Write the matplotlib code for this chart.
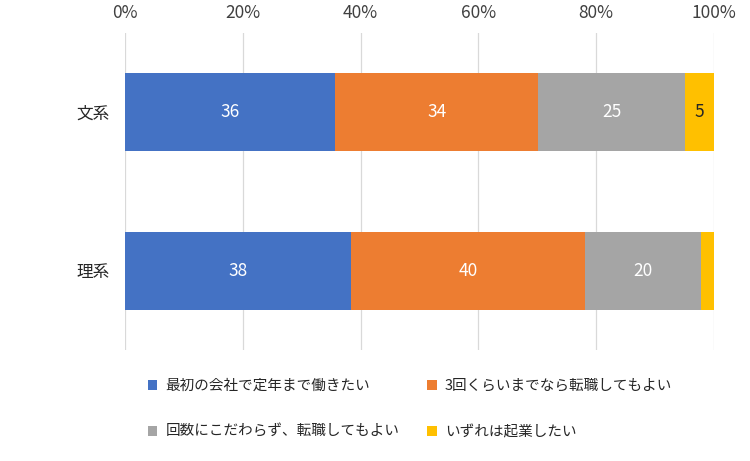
import matplotlib
matplotlib.use("Agg")
import matplotlib.pyplot as plt
from matplotlib.patches import Patch
import numpy as np

plt.rcParams['font.family'] = ['Noto Sans CJK JP', 'DejaVu Sans']

categories = ['文系', '理系']
series_names = ['最初の会社で定年まで働きたい', '3回くらいまでなら転職してもよい',
                '回数にこだわらず、転職してもよい', 'いずれは起業したい']
values = {
    '最初の会社で定年まで働きたい': [35.7, 38.4],
    '3回くらいまでなら転職してもよい': [34.4, 39.7],
    '回数にこだわらず、転職してもよい': [25.0, 19.7],
    'いずれは起業したい': [4.9, 2.2],
}
colors = ['#4472C4', '#ED7D31', '#A5A5A5', '#FFC000']
label_colors = ['white', 'white', 'white', '#262626']
xticks = [0, 20, 40, 60, 80, 100]
xticklabels = ['0%', '20%', '40%', '60%', '80%', '100%']

fig = plt.figure(figsize=(7.5, 4.61), dpi=100)
ax = fig.add_axes([125/750, 1 - 350/461, (714-125)/750, (350-33)/461])

y = np.arange(len(categories))
left = np.zeros(len(categories))
handles = []
for name, c, lc in zip(series_names, colors, label_colors):
    v = np.array(values[name])
    bars = ax.barh(y, v, left=left, height=0.495, color=c, zorder=3)
    for b, val, l in zip(bars, v, left):
        if val >= 3:
            ax.text(l + val / 2, b.get_y() + b.get_height() / 2, f'{val:.0f}',
                    ha='center', va='center', color=lc, fontsize=12.5, zorder=4)
    left += v
    handles.append(Patch(facecolor=c, edgecolor='none', label=name))

ax.set_xlim(0, 100)
ax.set_ylim(1.5, -0.5)
ax.set_yticks(y)
ax.set_yticklabels(categories, fontsize=12, color='#262626')
ax.set_xticks(xticks)
ax.set_xticklabels(xticklabels, fontsize=12.5, color='#404040')
ax.xaxis.tick_top()
ax.tick_params(axis='both', length=0)
ax.tick_params(axis='x', pad=8)
ax.tick_params(axis='y', pad=11)
ax.grid(axis='x', color='#D9D9D9', linewidth=0.9, zorder=0)
for s in ax.spines.values():
    s.set_visible(False)

order = [0, 2, 1, 3]
fig.legend([handles[i] for i in order], [series_names[i] for i in order],
           ncol=2, loc='center', bbox_to_anchor=(410/750, 52/461),
           frameon=False, fontsize=10.5, handlelength=0.68, handleheight=0.68,
           handletextpad=0.55, columnspacing=1.9, labelspacing=2.2,
           labelcolor='#262626')

fig.savefig('out.png', dpi=100)
